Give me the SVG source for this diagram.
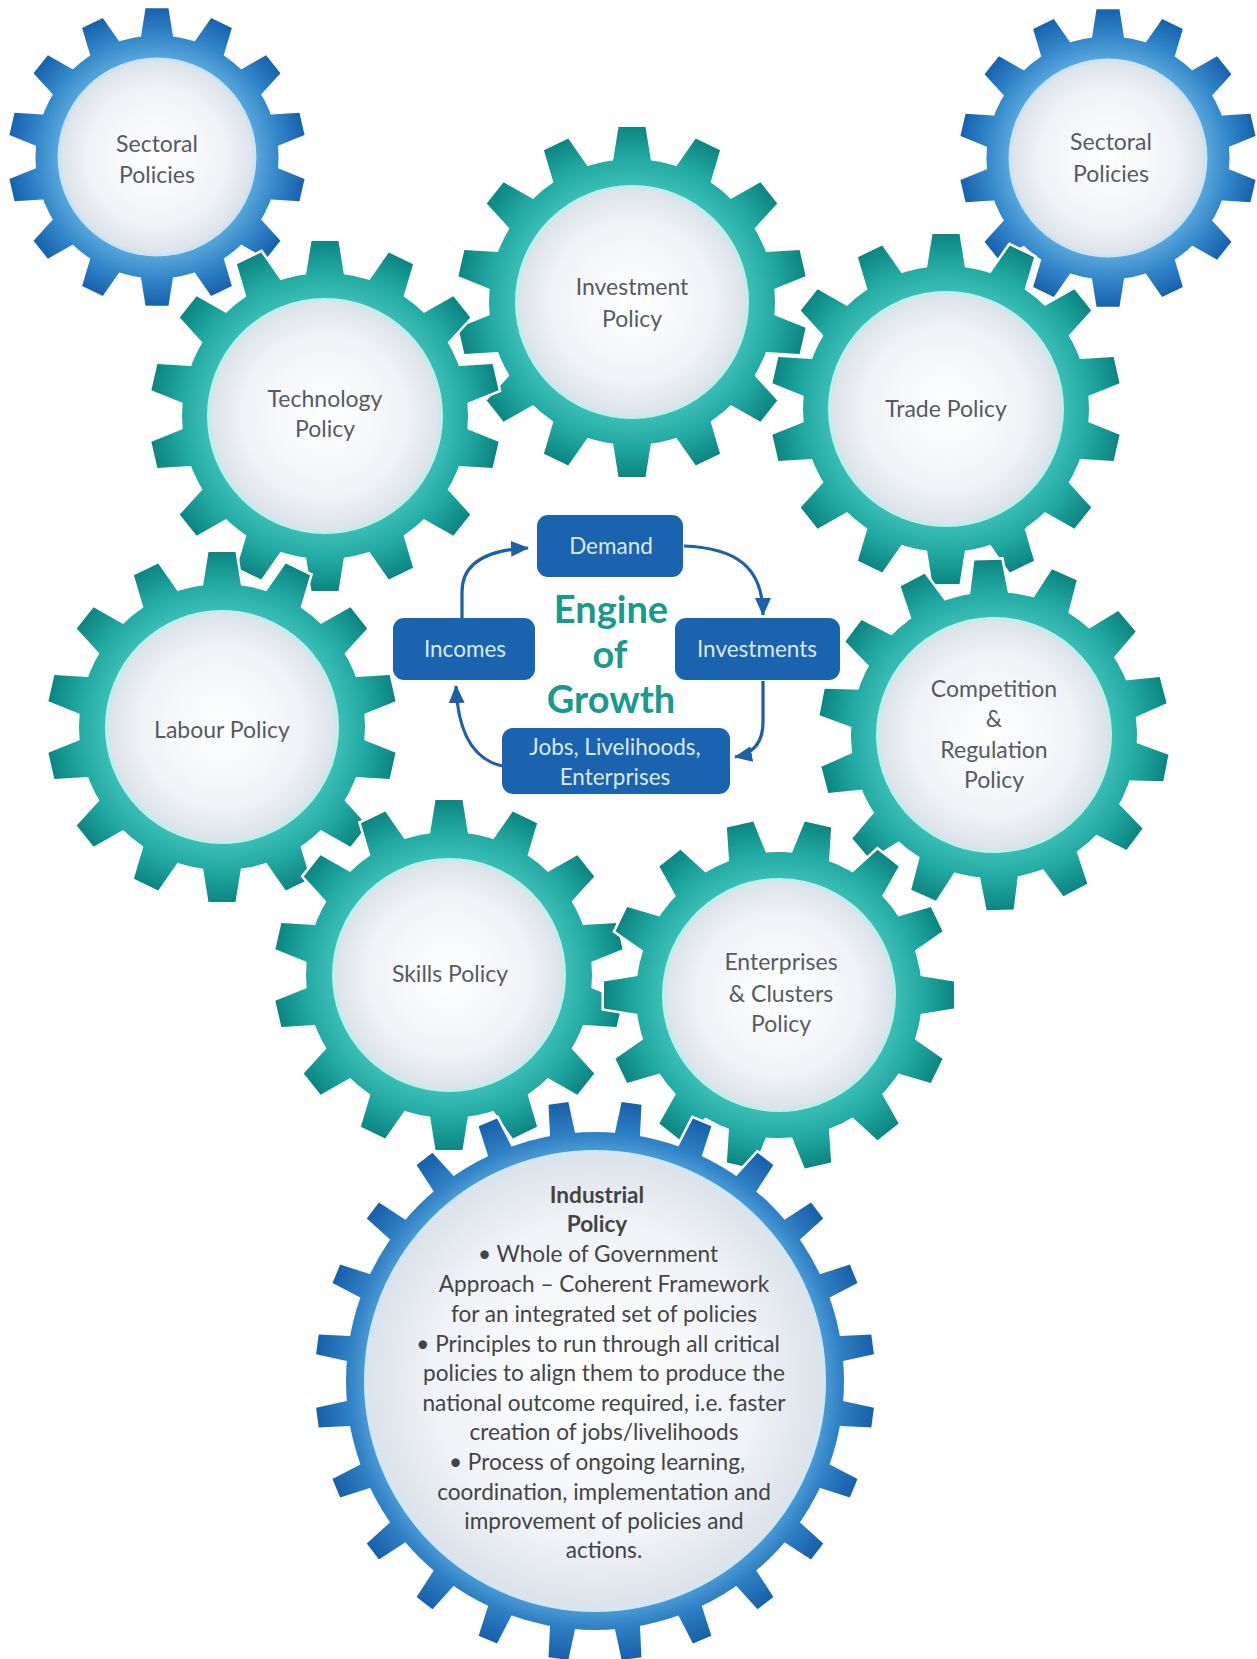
<svg xmlns="http://www.w3.org/2000/svg" xmlns:xlink="http://www.w3.org/1999/xlink" width="1257" height="1659" viewBox="0 0 1257 1659">
<style>
.lbl{font-family:Lato,"Liberation Sans",sans-serif;font-size:23px;fill:#565b61;text-anchor:middle}
.ind{font-family:Lato,"Liberation Sans",sans-serif;font-size:22.6px;fill:#444;text-anchor:middle}
.indb{font-weight:bold}
.box{fill:#1b63ae}
.btxt{font-family:Lato,"Liberation Sans",sans-serif;font-size:22.5px;fill:#dce9f6;text-anchor:middle}
.eng{font-family:Lato,"Liberation Sans",sans-serif;font-size:38px;font-weight:bold;fill:#1a998c;text-anchor:middle}
.halo{fill:#fff;stroke:#fff;stroke-width:5}
.innerT{fill:url(#innerG);stroke:#c4ecea;stroke-width:4}
.innerB{fill:url(#innerG);stroke:#cde3f4;stroke-width:4}
.arr{fill:none;stroke:#1f5fa8;stroke-width:3.2}
</style>
<defs>
<radialGradient id="tealG" gradientUnits="userSpaceOnUse" cx="0" cy="0" r="176">
<stop offset="0.64" stop-color="#3fc1b9"/>
<stop offset="0.82" stop-color="#22a8a2"/>
<stop offset="1" stop-color="#0c8480"/>
</radialGradient>
<radialGradient id="blueG" gradientUnits="userSpaceOnUse" cx="0" cy="0" r="176">
<stop offset="0.64" stop-color="#5eaade"/>
<stop offset="0.82" stop-color="#3285c8"/>
<stop offset="1" stop-color="#1760ac"/>
</radialGradient>
<radialGradient id="bigG" gradientUnits="userSpaceOnUse" cx="0" cy="0" r="281">
<stop offset="0.81" stop-color="#4f9ed8"/>
<stop offset="0.88" stop-color="#2f80c4"/>
<stop offset="1" stop-color="#185ea9"/>
</radialGradient>
<radialGradient id="innerG" cx="0.5" cy="0.5" r="0.5">
<stop offset="0" stop-color="#ffffff"/>
<stop offset="0.7" stop-color="#f0f3f7"/>
<stop offset="1" stop-color="#dce2ea"/>
</radialGradient>
<marker id="ah" markerUnits="userSpaceOnUse" markerWidth="18" markerHeight="18" viewBox="0 0 18 18" refX="17" refY="9" orient="auto">
<path d="M0,1 L18,9 L0,17 Z" fill="#1f5fa8"/>
</marker>
<path id="t14" d="M-19.5,-138 L-13.5,-175 L13.5,-175 L19.5,-138 Z"/>
<g id="g14">
<circle r="143"/>
<use href="#t14"/>
<use href="#t14" transform="rotate(25.714)"/>
<use href="#t14" transform="rotate(51.429)"/>
<use href="#t14" transform="rotate(77.143)"/>
<use href="#t14" transform="rotate(102.857)"/>
<use href="#t14" transform="rotate(128.571)"/>
<use href="#t14" transform="rotate(154.286)"/>
<use href="#t14" transform="rotate(180)"/>
<use href="#t14" transform="rotate(205.714)"/>
<use href="#t14" transform="rotate(231.429)"/>
<use href="#t14" transform="rotate(257.143)"/>
<use href="#t14" transform="rotate(282.857)"/>
<use href="#t14" transform="rotate(308.571)"/>
<use href="#t14" transform="rotate(334.286)"/>
</g>
<path id="t24" d="M-13,-244 L-10,-280 L10,-280 L13,-244 Z"/>
<g id="g24">
<circle r="249"/>
<use href="#t24" transform="rotate(7.5)"/>
<use href="#t24" transform="rotate(22.5)"/>
<use href="#t24" transform="rotate(37.5)"/>
<use href="#t24" transform="rotate(52.5)"/>
<use href="#t24" transform="rotate(67.5)"/>
<use href="#t24" transform="rotate(82.5)"/>
<use href="#t24" transform="rotate(97.5)"/>
<use href="#t24" transform="rotate(112.5)"/>
<use href="#t24" transform="rotate(127.5)"/>
<use href="#t24" transform="rotate(142.5)"/>
<use href="#t24" transform="rotate(157.5)"/>
<use href="#t24" transform="rotate(172.5)"/>
<use href="#t24" transform="rotate(187.5)"/>
<use href="#t24" transform="rotate(202.5)"/>
<use href="#t24" transform="rotate(217.5)"/>
<use href="#t24" transform="rotate(232.5)"/>
<use href="#t24" transform="rotate(247.5)"/>
<use href="#t24" transform="rotate(262.5)"/>
<use href="#t24" transform="rotate(277.5)"/>
<use href="#t24" transform="rotate(292.5)"/>
<use href="#t24" transform="rotate(307.5)"/>
<use href="#t24" transform="rotate(322.5)"/>
<use href="#t24" transform="rotate(337.5)"/>
<use href="#t24" transform="rotate(352.5)"/>
</g>
</defs>
<rect width="1257" height="1659" fill="#ffffff"/>

<g id="sectoral-left">
<g transform="translate(157,157) scale(0.85)">
<use href="#g14" class="halo"/>
<use href="#g14" fill="url(#blueG)"/>
<circle r="115" class="innerB"/>
</g>
<text class="lbl" x="157" y="152">Sectoral</text>
<text class="lbl" x="157" y="183">Policies</text>
</g>

<g id="sectoral-right">
<g transform="translate(1108,158) scale(0.85)">
<use href="#g14" class="halo"/>
<use href="#g14" fill="url(#blueG)"/>
<circle r="115" class="innerB"/>
</g>
<text class="lbl" x="1111" y="150">Sectoral</text>
<text class="lbl" x="1111" y="182">Policies</text>
</g>

<g id="investment">
<g transform="translate(632,302)">
<use href="#g14" class="halo"/>
<use href="#g14" fill="url(#tealG)"/>
<circle r="115" class="innerT"/>
</g>
<text class="lbl" x="632" y="295">Investment</text>
<text class="lbl" x="632" y="327">Policy</text>
</g>

<g id="technology">
<g transform="translate(325,416)">
<use href="#g14" class="halo"/>
<use href="#g14" fill="url(#tealG)"/>
<circle r="116" class="innerT"/>
</g>
<text class="lbl" x="325" y="407">Technology</text>
<text class="lbl" x="325" y="437">Policy</text>
</g>

<g id="trade">
<g transform="translate(946,409)">
<use href="#g14" class="halo"/>
<use href="#g14" fill="url(#tealG)"/>
<circle r="116" class="innerT"/>
</g>
<text class="lbl" x="946" y="417">Trade Policy</text>
</g>

<g id="labour">
<g transform="translate(222,727)">
<use href="#g14" class="halo"/>
<use href="#g14" fill="url(#tealG)"/>
<circle r="115" class="innerT"/>
</g>
<text class="lbl" x="222" y="738">Labour Policy</text>
</g>

<g id="competition">
<g transform="translate(994,735) rotate(-2)">
<use href="#g14" class="halo"/>
<use href="#g14" fill="url(#tealG)"/>
<circle r="116" class="innerT"/>
</g>
<text class="lbl" x="994" y="697">Competition</text>
<text class="lbl" x="994" y="727">&amp;</text>
<text class="lbl" x="994" y="758">Regulation</text>
<text class="lbl" x="994" y="788">Policy</text>
</g>

<g id="skills">
<g transform="translate(449,975)">
<use href="#g14" class="halo"/>
<use href="#g14" fill="url(#tealG)"/>
<circle r="115" class="innerT"/>
</g>
<text class="lbl" x="450" y="982">Skills Policy</text>
</g>

<g id="enterprises">
<g transform="translate(779,995) rotate(12.86)">
<use href="#g14" class="halo"/>
<use href="#g14" fill="url(#tealG)"/>
<circle r="115" class="innerT"/>
</g>
<text class="lbl" x="781" y="970">Enterprises</text>
<text class="lbl" x="781" y="1002">&amp; Clusters</text>
<text class="lbl" x="781" y="1032">Policy</text>
</g>

<g id="industrial">
<g transform="translate(595,1381)">
<use href="#g24" class="halo"/>
<use href="#g24" fill="url(#bigG)"/>
<circle r="229" fill="url(#innerG)" stroke="#d3e6f5" stroke-width="4"/>
</g>
<text class="ind indb" x="597" y="1203">Industrial</text>
<text class="ind indb" x="597" y="1232">Policy</text>
<text class="ind" x="598" y="1262">• Whole of Government</text>
<text class="ind" x="604" y="1292">Approach – Coherent Framework</text>
<text class="ind" x="604" y="1322">for an integrated set of policies</text>
<text class="ind" x="598" y="1352">• Principles to run through all critical</text>
<text class="ind" x="604" y="1381">policies to align them to produce the</text>
<text class="ind" x="604" y="1411">national outcome required, i.e. faster</text>
<text class="ind" x="604" y="1440">creation of jobs/livelihoods</text>
<text class="ind" x="597" y="1470">• Process of ongoing learning,</text>
<text class="ind" x="604" y="1500">coordination, implementation and</text>
<text class="ind" x="604" y="1529">improvement of policies and</text>
<text class="ind" x="604" y="1558">actions.</text>
</g>

<g id="engine-title">
<text class="eng" x="611" y="623">Engine</text>
<text class="eng" x="610" y="668">of</text>
<text class="eng" x="611" y="713">Growth</text>
</g>

<g id="demand">
<rect class="box" x="537" y="515" width="146" height="62" rx="11"/>
<text class="btxt" x="611" y="554">Demand</text>
</g>
<g id="investments">
<rect class="box" x="675" y="618" width="165" height="62" rx="11"/>
<text class="btxt" x="757" y="657">Investments</text>
</g>
<g id="jobs">
<rect class="box" x="502" y="728" width="228" height="66" rx="11"/>
<text class="btxt" x="615" y="755">Jobs, Livelihoods,</text>
<text class="btxt" x="615" y="785">Enterprises</text>
</g>
<g id="incomes">
<rect class="box" x="393" y="618" width="142" height="62" rx="11"/>
<text class="btxt" x="465" y="657">Incomes</text>
</g>

<g id="connectors">
<path class="arr" d="M462,618 L462,592 Q462,551 528,548" marker-end="url(#ah)"/>
<path class="arr" d="M684,546 C735,548 763,566 763,615" marker-end="url(#ah)"/>
<path class="arr" d="M763,681 L763,722 Q763,752 735,757" marker-end="url(#ah)"/>
<path class="arr" d="M502,766 C476,760 458,736 456,686" marker-end="url(#ah)"/>
</g>
</svg>
